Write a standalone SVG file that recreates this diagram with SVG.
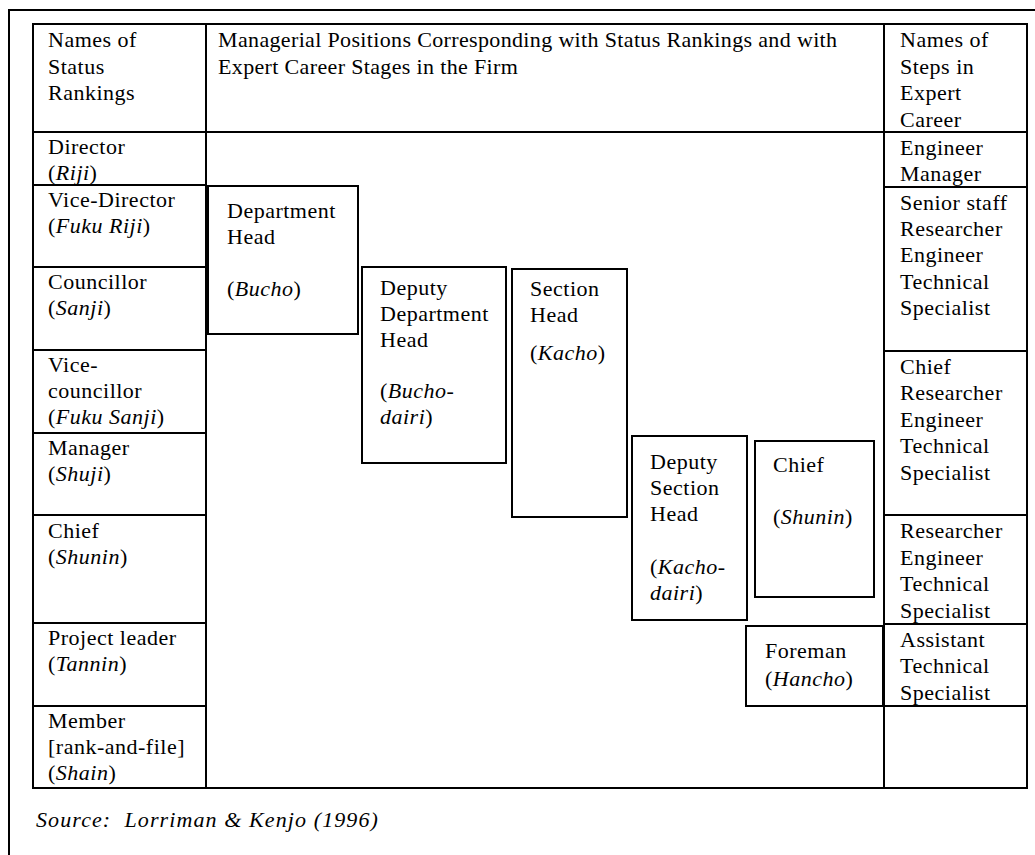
<svg xmlns="http://www.w3.org/2000/svg" width="1035" height="855" viewBox="0 0 1035 855">
<style>
.ln{fill:none;stroke:#000;stroke-width:2}
.bx{fill:#fff;stroke:#000;stroke-width:2}
text{font-family:"Liberation Serif","Times New Roman",serif;font-size:22px;letter-spacing:0.5px;fill:#000}
.i{font-style:italic}
.hd{letter-spacing:0.35px}
.src{font-style:italic;letter-spacing:1.1px}
</style>
<rect width="1035" height="855" fill="#fff"/>
<g id="frame">
<path class="ln" d="M9,855 V10 H1035" stroke-width="2.5"/>
</g>
<g id="table">
<rect class="ln" x="33" y="24" width="994" height="764"/>
<line class="ln" x1="206" y1="24" x2="206" y2="788"/>
<line class="ln" x1="884" y1="24" x2="884" y2="788"/>
<line class="ln" x1="33" y1="132" x2="1027" y2="132"/>
</g>
<g id="left-column">
<g id="h-status"><text x="48" y="47">Names of</text><text x="48" y="74">Status</text><text x="48" y="100">Rankings</text></g>
<g id="r-director"><text x="48" y="154">Director</text><text x="48" y="180">(<tspan class="i">Riji</tspan>)</text><line class="ln" x1="33" y1="185" x2="206" y2="185"/></g>
<g id="r-vicedirector"><text x="48" y="207">Vice-Director</text><text x="48" y="233">(<tspan class="i">Fuku Riji</tspan>)</text><line class="ln" x1="33" y1="267" x2="206" y2="267"/></g>
<g id="r-councillor"><text x="48" y="289">Councillor</text><text x="48" y="315">(<tspan class="i">Sanji</tspan>)</text><line class="ln" x1="33" y1="350" x2="206" y2="350"/></g>
<g id="r-vicecouncillor"><text x="48" y="372">Vice-</text><text x="48" y="398">councillor</text><text x="48" y="424">(<tspan class="i">Fuku Sanji</tspan>)</text><line class="ln" x1="33" y1="433" x2="206" y2="433"/></g>
<g id="r-manager"><text x="48" y="455">Manager</text><text x="48" y="481">(<tspan class="i">Shuji</tspan>)</text><line class="ln" x1="33" y1="515" x2="206" y2="515"/></g>
<g id="r-chief"><text x="48" y="538">Chief</text><text x="48" y="564">(<tspan class="i">Shunin</tspan>)</text><line class="ln" x1="33" y1="623" x2="206" y2="623"/></g>
<g id="r-projectleader"><text x="48" y="645">Project leader</text><text x="48" y="671">(<tspan class="i">Tannin</tspan>)</text><line class="ln" x1="33" y1="706" x2="206" y2="706"/></g>
<g id="r-member"><text x="48" y="728">Member</text><text x="48" y="754">[rank-and-file]</text><text x="48" y="780">(<tspan class="i">Shain</tspan>)</text></g>
</g>
<g id="middle-header">
<text class="hd" x="218" y="47">Managerial Positions Corresponding with Status Rankings and with</text>
<text class="hd" x="218" y="74">Expert Career Stages in the Firm</text>
</g>
<g id="right-column">
<g id="h-steps"><text x="900" y="47">Names of</text><text x="900" y="74">Steps in</text><text x="900" y="100">Expert</text><text x="900" y="127">Career</text></g>
<g id="s-engmanager"><text x="900" y="155">Engineer</text><text x="900" y="181">Manager</text><line class="ln" x1="884" y1="187" x2="1027" y2="187"/></g>
<g id="s-senior"><text x="900" y="210">Senior staff</text><text x="900" y="236">Researcher</text><text x="900" y="262">Engineer</text><text x="900" y="289">Technical</text><text x="900" y="315">Specialist</text><line class="ln" x1="884" y1="351" x2="1027" y2="351"/></g>
<g id="s-chief"><text x="900" y="374">Chief</text><text x="900" y="400">Researcher</text><text x="900" y="427">Engineer</text><text x="900" y="453">Technical</text><text x="900" y="480">Specialist</text><line class="ln" x1="884" y1="515" x2="1027" y2="515"/></g>
<g id="s-researcher"><text x="900" y="538">Researcher</text><text x="900" y="565">Engineer</text><text x="900" y="591">Technical</text><text x="900" y="618">Specialist</text><line class="ln" x1="884" y1="624" x2="1027" y2="624"/></g>
<g id="s-assistant"><text x="900" y="647">Assistant</text><text x="900" y="673">Technical</text><text x="900" y="700">Specialist</text><line class="ln" x1="884" y1="706" x2="1027" y2="706"/></g>
</g>
<g id="connectors"></g>
<g id="n-bucho"><rect class="bx" x="208" y="186" width="150" height="148"/><text x="227" y="218">Department</text><text x="227" y="244">Head</text><text x="227" y="296">(<tspan class="i">Bucho</tspan>)</text></g>
<g id="n-buchodairi"><rect class="bx" x="362" y="267" width="144" height="196"/><text x="380" y="295">Deputy</text><text x="380" y="321">Department</text><text x="380" y="347">Head</text><text x="380" y="398">(<tspan class="i">Bucho-</tspan></text><text x="380" y="424"><tspan class="i">dairi</tspan>)</text></g>
<g id="n-kacho"><rect class="bx" x="512" y="269" width="115" height="248"/><text x="530" y="296">Section</text><text x="530" y="322">Head</text><text x="530" y="360">(<tspan class="i">Kacho</tspan>)</text></g>
<g id="n-kachodairi"><rect class="bx" x="632" y="436" width="115" height="184"/><text x="650" y="469">Deputy</text><text x="650" y="495">Section</text><text x="650" y="521">Head</text><text x="650" y="574">(<tspan class="i">Kacho-</tspan></text><text x="650" y="600"><tspan class="i">dairi</tspan>)</text></g>
<g id="n-shunin"><rect class="bx" x="755" y="441" width="119" height="156"/><text x="773" y="472">Chief</text><text x="773" y="524">(<tspan class="i">Shunin</tspan>)</text></g>
<g id="n-hancho"><rect class="bx" x="746" y="626" width="137" height="80"/><text x="765" y="658">Foreman</text><text x="765" y="686">(<tspan class="i">Hancho</tspan>)</text></g>
<g id="source"><text class="src" x="36" y="827">Source:&#160; Lorriman &amp; Kenjo (1996)</text></g>
</svg>
